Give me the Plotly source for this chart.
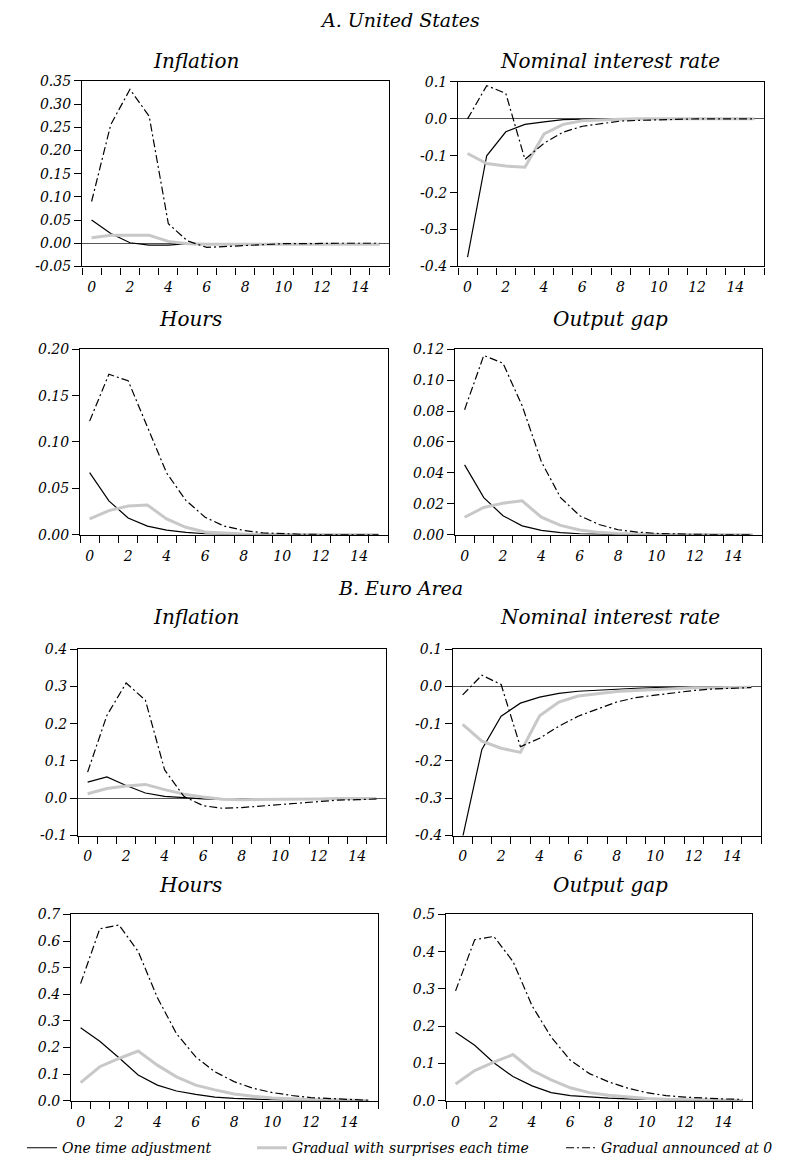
import plotly.graph_objects as go

# ---------------- data ----------------
periods = list(range(16))

series_names = ["One time adjustment", "Gradual with surprises each time", "Gradual announced at 0"]

# A. United States
us_infl_one = [0.050, 0.021, 0.001, -0.004, -0.004, -0.001, -0.001, -0.001, -0.001, -0.001, -0.001, -0.001, -0.001, -0.001, -0.001, -0.001]
us_infl_sur = [0.012, 0.017, 0.017, 0.017, 0.004, -0.001, -0.002, -0.002, -0.002, -0.002, -0.002, -0.002, -0.002, -0.002, -0.002, -0.002]
us_infl_ann = [0.090, 0.256, 0.332, 0.274, 0.042, 0.005, -0.009, -0.007, -0.004, -0.002, -0.001, -0.001, 0.000, 0.000, 0.000, 0.000]

us_rate_one = [-0.375, -0.100, -0.035, -0.015, -0.008, -0.002, -0.001, 0.000, 0.000, 0.000, 0.000, 0.000, 0.000, 0.000, 0.000, 0.000]
us_rate_sur = [-0.094, -0.121, -0.128, -0.131, -0.041, -0.015, -0.005, -0.002, -0.001, 0.000, 0.000, 0.000, 0.000, 0.000, 0.000, 0.000]
us_rate_ann = [0.000, 0.090, 0.069, -0.110, -0.066, -0.036, -0.020, -0.012, -0.006, -0.004, -0.002, -0.001, 0.000, 0.000, 0.000, 0.000]

us_hours_one = [0.067, 0.0365, 0.018, 0.0092, 0.005, 0.0025, 0.001, 0.0005, 0.0002, 0.0001, 0.0, 0.0, 0.0, 0.0, 0.0, 0.0]
us_hours_sur = [0.017, 0.026, 0.031, 0.032, 0.017, 0.008, 0.003, 0.0015, 0.0007, 0.0003, 0.0001, 0.0, 0.0, 0.0, 0.0, 0.0]
us_hours_ann = [0.1225, 0.173, 0.166, 0.116, 0.0665, 0.037, 0.0188, 0.0092, 0.0046, 0.002, 0.001, 0.0004, 0.0002, 0.0001, 0.0, 0.0]

us_gap_one = [0.0452, 0.024, 0.0123, 0.0057, 0.0028, 0.0013, 0.0006, 0.0002, 0.0001, 0.0, 0.0, 0.0, 0.0, 0.0, 0.0, 0.0]
us_gap_sur = [0.0113, 0.0176, 0.0204, 0.0219, 0.0113, 0.006, 0.003, 0.0015, 0.0008, 0.0004, 0.0002, 0.0001, 0.0, 0.0, 0.0, 0.0]
us_gap_ann = [0.0809, 0.116, 0.111, 0.0834, 0.0473, 0.024, 0.0123, 0.0066, 0.0032, 0.0017, 0.0008, 0.0004, 0.0002, 0.0001, 0.0, 0.0]

# B. Euro Area
ea_infl_one = [0.043, 0.057, 0.034, 0.014, 0.005, 0.001, -0.002, -0.003, -0.003, -0.003, -0.003, -0.002, -0.002, -0.002, -0.002, -0.002]
ea_infl_sur = [0.012, 0.026, 0.033, 0.037, 0.023, 0.011, 0.003, -0.003, -0.004, -0.004, -0.003, -0.002, -0.002, -0.001, -0.001, -0.001]
ea_infl_ann = [0.070, 0.222, 0.309, 0.263, 0.076, 0.005, -0.020, -0.027, -0.025, -0.021, -0.017, -0.012, -0.009, -0.005, -0.004, -0.002]

ea_rate_one = [-0.405, -0.169, -0.080, -0.045, -0.029, -0.019, -0.013, -0.010, -0.007, -0.005, -0.0035, -0.0026, -0.002, -0.0015, -0.001, -0.001]
ea_rate_sur = [-0.102, -0.147, -0.166, -0.177, -0.079, -0.042, -0.026, -0.019, -0.014, -0.011, -0.008, -0.006, -0.004, -0.0035, -0.003, -0.002]
ea_rate_ann = [-0.023, 0.030, 0.005, -0.162, -0.139, -0.107, -0.080, -0.060, -0.042, -0.030, -0.023, -0.016, -0.011, -0.007, -0.004, -0.003]

ea_hours_one = [0.274, 0.224, 0.162, 0.097, 0.059, 0.037, 0.024, 0.014, 0.009, 0.006, 0.004, 0.003, 0.002, 0.002, 0.001, 0.001]
ea_hours_sur = [0.068, 0.128, 0.159, 0.187, 0.134, 0.090, 0.059, 0.041, 0.026, 0.017, 0.011, 0.007, 0.005, 0.004, 0.003, 0.001]
ea_hours_ann = [0.440, 0.646, 0.660, 0.561, 0.388, 0.252, 0.165, 0.109, 0.072, 0.047, 0.031, 0.020, 0.012, 0.009, 0.006, 0.002]

ea_gap_one = [0.184, 0.149, 0.102, 0.065, 0.040, 0.022, 0.014, 0.010, 0.007, 0.005, 0.0035, 0.003, 0.002, 0.002, 0.001, 0.001]
ea_gap_sur = [0.045, 0.081, 0.104, 0.124, 0.082, 0.056, 0.035, 0.022, 0.015, 0.010, 0.006, 0.004, 0.003, 0.002, 0.002, 0.001]
ea_gap_ann = [0.295, 0.432, 0.441, 0.374, 0.255, 0.171, 0.109, 0.073, 0.051, 0.034, 0.022, 0.014, 0.010, 0.007, 0.005, 0.004]

# tick labels
x_tick_vals = [0, 2, 4, 6, 8, 10, 12, 14]
us_infl_ticks = [-0.05, 0.00, 0.05, 0.10, 0.15, 0.20, 0.25, 0.30, 0.35]
us_rate_ticks = [-0.4, -0.3, -0.2, -0.1, 0.0, 0.1]
us_hours_ticks = [0.00, 0.05, 0.10, 0.15, 0.20]
us_gap_ticks = [0.00, 0.02, 0.04, 0.06, 0.08, 0.10, 0.12]
ea_infl_ticks = [-0.1, 0.0, 0.1, 0.2, 0.3, 0.4]
ea_rate_ticks = [-0.4, -0.3, -0.2, -0.1, 0.0, 0.1]
ea_hours_ticks = [0.0, 0.1, 0.2, 0.3, 0.4, 0.5, 0.6, 0.7]
ea_gap_ticks = [0.0, 0.1, 0.2, 0.3, 0.4, 0.5]

section_titles = ["A. United States", "B. Euro Area"]
panel_titles = ["Inflation", "Nominal interest rate", "Hours", "Output gap",
                "Inflation", "Nominal interest rate", "Hours", "Output gap"]

# ---------------- layout config ----------------
W, H = 803, 1168
FONT = "DejaVu Serif"

panels = [
    # (series triple, yticks, decimals, zero line, px box L,R,T,B)
    ((us_infl_one, us_infl_sur, us_infl_ann), us_infl_ticks, 2, True, (82, 389, 74, 262)),
    ((us_rate_one, us_rate_sur, us_rate_ann), us_rate_ticks, 1, True, (458, 764, 75, 262)),
    ((us_hours_one, us_hours_sur, us_hours_ann), us_hours_ticks, 2, False, (80, 388, 346, 534)),
    ((us_gap_one, us_gap_sur, us_gap_ann), us_gap_ticks, 2, False, (455, 762, 346, 534)),
    ((ea_infl_one, ea_infl_sur, ea_infl_ann), ea_infl_ticks, 1, True, (78, 386, 650, 839)),
    ((ea_rate_one, ea_rate_sur, ea_rate_ann), ea_rate_ticks, 1, True, (453, 761, 650, 839)),
    ((ea_hours_one, ea_hours_sur, ea_hours_ann), ea_hours_ticks, 1, False, (71, 378, 919, 1108)),
    ((ea_gap_one, ea_gap_sur, ea_gap_ann), ea_gap_ticks, 1, False, (446, 752, 919, 1108)),
]

styles = [
    dict(color="black", width=1.2),
    dict(color="#c8c8c8", width=3),
    dict(color="black", width=1.2, dash="8px,3px,2px,3px"),
]
legend_ids = ["legend", "legend2", "legend3"]


def fmt(v, d):
    s = f"{v:.{d}f}"
    if s.startswith("-") and float(s) == 0:
        s = s[1:]
    return s


fig = go.Figure()
layout = dict(width=W, height=H, margin=dict(l=0, r=0, t=0, b=0),
              paper_bgcolor="white", plot_bgcolor="white",
              font=dict(family=FONT, size=13, color="black", style="italic"),
              annotations=[])

for i, (series, yt, dec, zl, (L, R, T, B)) in enumerate(panels):
    k = i + 1
    xa = "x" if k == 1 else f"x{k}"
    ya = "y" if k == 1 else f"y{k}"
    for j in [0, 1, 2]:
        fig.add_trace(go.Scatter(
            x=periods, y=series[j], mode="lines", line=styles[j],
            name=series_names[j], xaxis=xa, yaxis=ya,
            showlegend=(k == 1), legend=legend_ids[j], hoverinfo="skip"))
    xkey = "xaxis" if k == 1 else f"xaxis{k}"
    ykey = "yaxis" if k == 1 else f"yaxis{k}"
    layout[xkey] = dict(
        domain=[L / W, R / W], anchor=ya, range=[-0.5, 15.5],
        tickmode="array", tickvals=x_tick_vals, ticktext=[str(v) for v in x_tick_vals],
        ticks="outside", ticklen=8, tickcolor="rgba(0,0,0,0)",
        minor=dict(tickmode="array", tickvals=[v + 0.5 for v in range(-1, 16)],
                   ticks="outside", ticklen=7, tickcolor="black", tickwidth=1, showgrid=False),
        showline=True, linecolor="black", linewidth=1.3, mirror=True,
        showgrid=False, zeroline=False,
        tickfont=dict(family=FONT, size=14, style="italic"))
    layout[ykey] = dict(
        domain=[1 - B / H, 1 - T / H], anchor=xa, range=[yt[0], yt[-1]],
        tickmode="array", tickvals=yt, ticktext=[fmt(v, dec) for v in yt],
        ticks="outside", ticklen=7, tickcolor="black", tickwidth=1,
        showline=True, linecolor="black", linewidth=1.3, mirror=True,
        showgrid=False, zeroline=zl, zerolinecolor="#555", zerolinewidth=1,
        tickfont=dict(family=FONT, size=14, style="italic"))

# titles
title_pos = [(196, 54), (610, 54), (190, 315), (610, 315),
             (196, 617), (610, 617), (190, 889), (610, 889)]
for t, (x, y) in zip(panel_titles, title_pos):
    layout["annotations"].append(dict(
        text=t, x=x / W, y=1 - y / H, xref="paper", yref="paper",
        xanchor="center", yanchor="middle", showarrow=False,
        font=dict(family=FONT, size=20, style="italic")))
for t, y in zip(section_titles, [12, 588]):
    layout["annotations"].append(dict(
        text=t, x=400 / W, y=1 - y / H, xref="paper", yref="paper",
        xanchor="center", yanchor="middle", showarrow=False,
        font=dict(family=FONT, size=19, style="italic")))

legend_x = [22, 252, 561]
for lid, lx in zip(legend_ids, legend_x):
    layout[lid] = dict(x=lx / W, y=1 - 1156 / H, xanchor="left", yanchor="middle",
                       orientation="h", bgcolor="rgba(0,0,0,0)",
                       font=dict(family=FONT, size=14, style="italic"))

fig.update_layout(**layout)
fig.write_html("out.html")
